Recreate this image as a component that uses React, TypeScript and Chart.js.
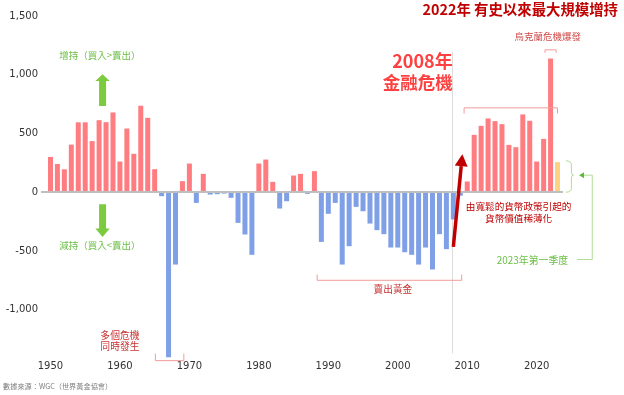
import React, { useEffect, useRef } from 'react';
import { Chart, registerables } from 'chart.js';

Chart.register(...registerables);

// Categories: years 1950 .. 2023 (2023 = first quarter only)
const years: string[] = Array.from({ length: 74 }, (_, i) => String(1950 + i));

// Central bank net gold purchases (tonnes)
const netPurchases: number[] = [
  300, 240, 195, 405, 595, 595, 435, 613, 596, 679, // 1950-1959
  261, 542, 327, 736, 633, 196, -34, -1405, -616, 94, // 1960-1969
  244, -91, 156, -20, -17, -12, -48, -261, -360, -533, // 1970-1979
  244, 278, 88, -139, -77, 142, 156, -14, 179, -423, // 1980-1989
  -184, -91, -616, -460, -125, -162, -267, -323, -357, -471, // 1990-1999
  -471, -511, -533, -616, -471, -658, -357, -485, -232, -30, // 2000-2009
  91, 488, 565, 628, 605, 579, 403, 383, 662, 608, // 2010-2019
  261, 454, 1139, 256, // 2020-2023Q1
];

const xTickLabels: string[] = ['1950', '1960', '1970', '1980', '1990', '2000', '2010', '2020'];
const yTickValues: number[] = [-1000, -500, 0, 500, 1000, 1500];
const yMin = -1420;
const yMax = 1500;

const COL_POS = '#FF7C80';
const COL_NEG = '#7FA0E6';
const COL_PARTIAL = '#FFD280';

const CJK = '"Noto Sans CJK TC"';

const annotationPlugin = {
  id: 'annotations',
  beforeDatasetsDraw(chart: any) {
    const { ctx } = chart;
    const xs = chart.scales.x;
    const ys = chart.scales.y;
    const X = (yr: number) => xs.getPixelForValue(yr - 1950);
    const Y = (v: number) => ys.getPixelForValue(v);
    ctx.save();
    ctx.strokeStyle = '#DCDCDC';
    ctx.lineWidth = 1;
    ctx.beginPath();
    ctx.moveTo(Math.round(X(2007.8)) + 0.5, Y(1195));
    ctx.lineTo(Math.round(X(2007.8)) + 0.5, Y(-1372));
    ctx.stroke();
    ctx.restore();
  },
  afterDatasetsDraw(chart: any) {
    const { ctx, chartArea } = chart;
    const xs = chart.scales.x;
    const ys = chart.scales.y;
    const X = (yr: number) => xs.getPixelForValue(yr - 1950);
    const Y = (v: number) => ys.getPixelForValue(v);

    const text = (s: string, x: number, y: number, font: string, color: string, align: CanvasTextAlign = 'center') => {
      ctx.font = font;
      ctx.fillStyle = color;
      ctx.textAlign = align;
      ctx.textBaseline = 'middle';
      ctx.fillText(s, x, y);
    };
    const seg = (pts: number[][], color: string, w = 1) => {
      ctx.strokeStyle = color;
      ctx.lineWidth = w;
      ctx.beginPath();
      pts.forEach((p, i) => (i === 0 ? ctx.moveTo(p[0], p[1]) : ctx.lineTo(p[0], p[1])));
      ctx.stroke();
    };

    ctx.save();

    // zero line
    ctx.fillStyle = '#BFBFBF';
    ctx.fillRect(chartArea.left - 6, Math.round(Y(0)) - 1, chartArea.right - chartArea.left + 8, 2);

    // Title
    text('2022年 有史以來最大規模增持', chart.width - 6, 10, `bold 14.4px ${CJK}`, '#C00000', 'right');

    // 2008 financial crisis label
    text('2008年', X(2007.9), Y(1116), `bold 18px ${CJK}`, '#FF4040', 'right');
    text('金融危機', X(2007.9), Y(937), `bold 17.5px ${CJK}`, '#FF4040', 'right');

    // Ukraine crisis bracket + label
    const rb = '#F29B9B';
    seg([[X(2021.2), Y(1187)], [X(2021.2), Y(1212)], [X(2022.8), Y(1212)], [X(2022.8), Y(1187)]], rb);
    text('烏克蘭危機爆發', X(2021.6), Y(1329), `9.5px ${CJK}`, '#D04848');

    // 2010-2021 bracket
    seg([[X(2009.55), Y(670)], [X(2009.55), Y(718)], [X(2023.0), Y(718)], [X(2023.0), Y(670)]], rb);

    // Red arrow (monetary easing)
    {
      const x0 = X(2008.0), y0 = Y(-466), x1 = X(2009.3), y1 = Y(324);
      const dx = x1 - x0, dy = y1 - y0;
      const len = Math.hypot(dx, dy);
      const ux = dx / len, uy = dy / len;
      const hl = 12, hw = 6.5;
      const bx = x1 - ux * hl, by = y1 - uy * hl;
      seg([[x0, y0], [bx, by]], '#C00000', 3.5);
      ctx.fillStyle = '#C00000';
      ctx.beginPath();
      ctx.moveTo(x1, y1);
      ctx.lineTo(bx - uy * hw, by + ux * hw);
      ctx.lineTo(bx + uy * hw, by - ux * hw);
      ctx.closePath();
      ctx.fill();
    }
    text('由寬鬆的貨幣政策引起的', X(2017.4), Y(-119), `9.6px ${CJK}`, '#C00000');
    text('貨幣價值稀薄化', X(2017.4), Y(-222), `9.6px ${CJK}`, '#C00000');

    // Green brace for 2023 Q1
    {
      const gl = '#B0DC94';
      const x0 = X(2024.2), x1 = X(2025.0), x2 = X(2025.3);
      const yT = Y(267), yM = Y(145), yB = Y(0);
      ctx.strokeStyle = gl;
      ctx.lineWidth = 1;
      ctx.beginPath();
      ctx.moveTo(x0, yT);
      ctx.quadraticCurveTo(x1, yT, x1, yT + 4);
      ctx.lineTo(x1, yM - 3);
      ctx.quadraticCurveTo(x1, yM, x2, yM);
      ctx.quadraticCurveTo(x1, yM, x1, yM + 3);
      ctx.lineTo(x1, yB - 4);
      ctx.quadraticCurveTo(x1, yB, x0, yB);
      ctx.stroke();
      const ax = X(2028.0), tip = X(2026.1);
      seg([[tip + 4, yM], [ax, yM], [ax, Y(-573)], [X(2025.8), Y(-573)]], gl);
      ctx.fillStyle = '#5DB83A';
      ctx.beginPath();
      ctx.moveTo(tip, yM);
      ctx.lineTo(tip + 5, yM - 3);
      ctx.lineTo(tip + 5, yM + 3);
      ctx.closePath();
      ctx.fill();
    }
    text('2023年第一季度', X(2019.4), Y(-579), `9.9px ${CJK}`, '#6CBF45');

    // Green up / down arrows
    {
      const g = '#7CCB3F';
      const cx = X(1957.5);
      const sw = 3.5, hw = 7.2;
      ctx.fillStyle = g;
      ctx.beginPath();
      ctx.moveTo(cx, Y(1005));
      ctx.lineTo(cx + hw, Y(946));
      ctx.lineTo(cx + sw, Y(946));
      ctx.lineTo(cx + sw, Y(733));
      ctx.lineTo(cx - sw, Y(733));
      ctx.lineTo(cx - sw, Y(946));
      ctx.lineTo(cx - hw, Y(946));
      ctx.closePath();
      ctx.fill();
      ctx.beginPath();
      ctx.moveTo(cx, Y(-381));
      ctx.lineTo(cx + hw, Y(-309));
      ctx.lineTo(cx + sw, Y(-309));
      ctx.lineTo(cx + sw, Y(-102));
      ctx.lineTo(cx - sw, Y(-102));
      ctx.lineTo(cx - sw, Y(-309));
      ctx.lineTo(cx - hw, Y(-309));
      ctx.closePath();
      ctx.fill();
    }
    text('增持（買入>賣出）', X(1957.1), Y(1167), `9.5px ${CJK}`, '#6CBF45');
    text('減持（買入<賣出）', X(1957.1), Y(-457), `9.5px ${CJK}`, '#6CBF45');

    // Multiple crises
    text('多個危機', X(1960), Y(-1218), `9.8px ${CJK}`, '#C83232');
    text('同時發生', X(1960), Y(-1312), `9.8px ${CJK}`, '#C83232');
    seg([[X(1965.1), Y(-1374)], [X(1965.1), Y(-1434)], [X(1969.2), Y(-1434)], [X(1969.2), Y(-1374)]], rb);

    // Selling gold
    seg([[X(1988.4), Y(-701)], [X(1988.4), Y(-750)], [X(2009.2), Y(-750)], [X(2009.2), Y(-701)]], rb);
    text('賣出黃金', X(1999.3), Y(-826), `9.7px ${CJK}`, '#C83232');

    // Source
    text('數據來源：WGC（世界黃金協會）', 3, 386, `7.2px ${CJK}`, '#7F7F7F', 'left');

    ctx.restore();
  },
};

export default function App() {
  const ref = useRef<HTMLCanvasElement | null>(null);

  useEffect(() => {
    document.body.style.margin = '0';
    const canvas = ref.current;
    if (!canvas) return;
    const colors = netPurchases.map((v, i) =>
      i === netPurchases.length - 1 ? COL_PARTIAL : v >= 0 ? COL_POS : COL_NEG
    );
    const chart = new Chart(canvas, {
      type: 'bar',
      data: {
        labels: years,
        datasets: [
          {
            data: netPurchases,
            backgroundColor: colors,
            borderWidth: 0,
            barPercentage: 0.72,
            categoryPercentage: 1,
          },
        ],
      },
      options: {
        animation: false,
        responsive: false,
        devicePixelRatio: 1,
        layout: { padding: { top: 16, right: 63, bottom: 20, left: 0 } },
        plugins: { legend: { display: false }, tooltip: { enabled: false } },
        scales: {
          x: {
            type: 'category',
            offset: true,
            grid: { display: false, drawTicks: false },
            border: { display: false },
            ticks: {
              autoSkip: false,
              maxRotation: 0,
              minRotation: 0,
              padding: 1,
              color: '#333333',
              font: { family: 'DejaVu Sans', size: 10 },
              callback: (_v: any, i: number) => (xTickLabels.includes(years[i]) ? years[i] : ''),
            },
            afterFit: (s: any) => {
              s.height = 16;
            },
          },
          y: {
            min: yMin,
            max: yMax,
            grid: { display: false, drawTicks: false },
            border: { display: false },
            ticks: {
              padding: 9,
              color: '#333333',
              font: { family: 'DejaVu Sans', size: 10 },
              callback: (v: any) => Number(v).toLocaleString('en-US'),
            },
            afterBuildTicks: (s: any) => {
              s.ticks = yTickValues.map((v) => ({ value: v }));
            },
            afterFit: (s: any) => {
              s.width = 47;
            },
          },
        },
      },
      plugins: [annotationPlugin],
    });
    return () => chart.destroy();
  }, []);

  return (
    <div style={{ position: 'absolute', left: 0, top: 0, width: 624, height: 395 }}>
      <canvas ref={ref} width={624} height={395} style={{ display: 'block' }} />
    </div>
  );
}
